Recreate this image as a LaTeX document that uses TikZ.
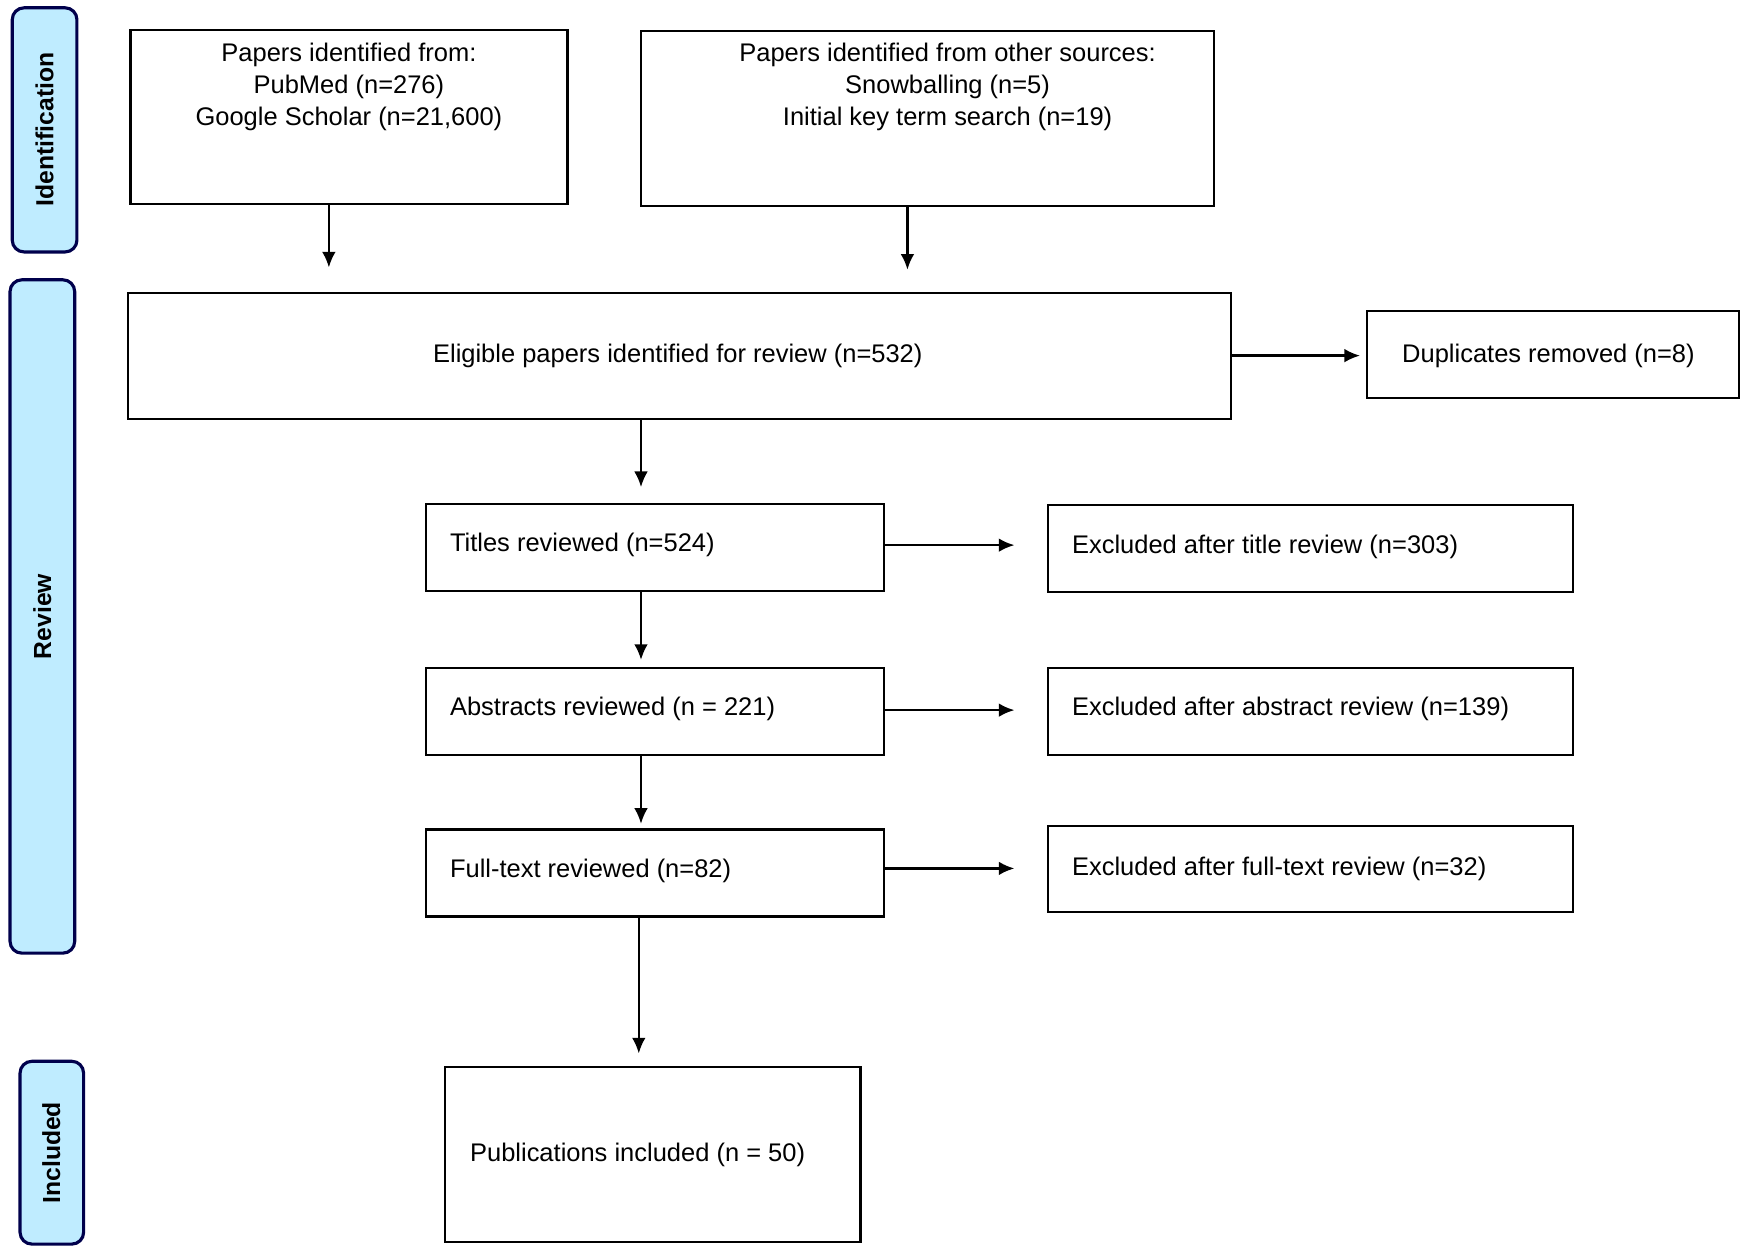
\documentclass[tikz,border=0pt]{standalone}
\usepackage{fontspec}
\setmainfont{Liberation Sans}
\begin{document}
\begin{tikzpicture}[x=0.01cm,y=-0.01cm,
  box/.style={draw,line width=0.6pt},
  lbl/.style={font=\fontsize{6.5pt}{8.2pt}\selectfont,inner sep=0pt,align=center},
  side/.style={draw=black!70!blue,fill=blue!30!cyan!25!white,line width=0.8pt,rounded corners=3pt},
  st/.style={font=\bfseries\fontsize{6.3pt}{7pt}\selectfont,rotate=90,inner sep=0pt},
  arr/.style={-{Latex[length=4pt,width=3.5pt]},line width=0.6pt}]
\usetikzlibrary{arrows.meta}
\useasboundingbox (0,0) rectangle (1568,1127);
% side bars
\draw[side] (11,7) rectangle (69,226); \node[st] (si) at (40,116) {Identification};
\draw[side] (9,251) rectangle (67,855); \node[st] (sr) at (38,553) {Review};
\draw[side] (18,952) rectangle (75,1116); \node[st] (sn) at (46,1034) {Included};
% boxes
\draw[box] (117,27) rectangle (509,183); \node[lbl,anchor=north] (a) at (313,38) {Papers identified from:\\PubMed (n=276)\\Google Scholar (n=21,600)};
\draw[box] (575,28) rectangle (1089,185); \node[lbl,anchor=north] (b) at (850,38) {Papers identified from other sources:\\Snowballing (n=5)\\Initial key term search (n=19)};
\draw[box] (115,263) rectangle (1104,376); \node[lbl] (e) at (608,319) {Eligible papers identified for review (n=532)};
\draw[box] (1226,279) rectangle (1560,357); \node[lbl] (d) at (1389,319) {Duplicates removed (n=8)};
\draw[box] (382,452) rectangle (793,530); \node[lbl,anchor=west] (t) at (403,489) {Titles reviewed (n=524)};
\draw[box] (940,453) rectangle (1411,531); \node[lbl,anchor=west] (x1) at (961,491) {Excluded after title review (n=303)};
\draw[box] (382,599) rectangle (793,677); \node[lbl,anchor=west] (ab) at (403,636) {Abstracts reviewed (n = 221)};
\draw[box] (940,599) rectangle (1411,677); \node[lbl,anchor=west] (x2) at (961,636) {Excluded after abstract review (n=139)};
\draw[box] (382,744) rectangle (793,822); \node[lbl,anchor=west] (f) at (403,781) {Full-text reviewed (n=82)};
\draw[box] (940,741) rectangle (1411,818); \node[lbl,anchor=west] (x3) at (961,779) {Excluded after full-text review (n=32)};
\draw[box] (399,957) rectangle (772,1114); \node[lbl,anchor=west] (p) at (421,1036) {Publications included (n = 50)};
% arrows
\coordinate (a1) at (295,183); \coordinate (a2) at (295,240);
\coordinate (b1) at (814,185); \coordinate (b2) at (814,242);
\coordinate (e1) at (1104,319); \coordinate (e2) at (1220,319);
\coordinate (e3) at (575,376); \coordinate (t0) at (575,437);
\coordinate (t1) at (793,489); \coordinate (t2) at (910,489);
\coordinate (t3) at (575,530); \coordinate (ab0) at (575,592);
\coordinate (ab1) at (793,637); \coordinate (ab2) at (910,637);
\coordinate (ab3) at (575,677); \coordinate (f0) at (575,739);
\coordinate (f1) at (793,779); \coordinate (f2) at (910,779);
\coordinate (f3) at (573,822); \coordinate (p0) at (573,945);
\draw[arr] (a1)--(a2); \draw[arr] (b1)--(b2); \draw[arr] (e1)--(e2);
\draw[arr] (e3)--(t0); \draw[arr] (t1)--(t2); \draw[arr] (t3)--(ab0);
\draw[arr] (ab1)--(ab2); \draw[arr] (ab3)--(f0); \draw[arr] (f1)--(f2);
\draw[arr] (f3)--(p0);
\end{tikzpicture}
\end{document}
